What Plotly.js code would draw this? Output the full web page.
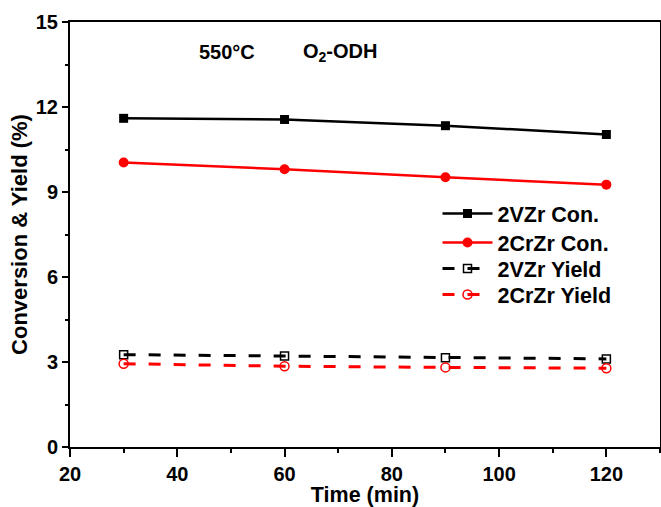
<!DOCTYPE html>
<html>
<head>
<meta charset="utf-8">
<script src="https://cdn.plot.ly/plotly-3.0.1.min.js"></script>
<style>html,body{margin:0;padding:0;background:#fff;}</style>
</head>
<body>
<div id="chart" style="width:661px;height:507px;"></div>
<script>
const time = [30, 60, 90, 120];
const vzrCon = [11.60, 11.56, 11.34, 11.03];
const crzrCon = [10.04, 9.80, 9.52, 9.26];
const vzrYield = [3.26, 3.21, 3.15, 3.11];
const crzrYield = [2.94, 2.85, 2.81, 2.78];
const seriesNames = ['2VZr Con.', '2CrZr Con.', '2VZr Yield', '2CrZr Yield'];

const F = 'Liberation Sans, Arial, sans-serif';
const traces = [
  {x: time, y: vzrCon, name: seriesNames[0], mode: 'lines+markers', legend: 'legend',
   line: {color: '#000', width: 2.5}, marker: {symbol: 'square', size: 9, color: '#000'}},
  {x: time, y: crzrCon, name: seriesNames[1], mode: 'lines+markers', legend: 'legend2',
   line: {color: '#ff0000', width: 2.5}, marker: {symbol: 'circle', size: 10, color: '#ff0000'}},
  {x: time, y: vzrYield, name: seriesNames[2], mode: 'lines+markers', legend: 'legend3',
   line: {color: '#000', width: 3, dash: '12px,13px'},
   marker: {symbol: 'square-open', size: 8, color: '#000', line: {width: 1.5}}},
  {x: time, y: crzrYield, name: seriesNames[3], mode: 'lines+markers', legend: 'legend4',
   line: {color: '#ff0000', width: 3, dash: '12px,13px'},
   marker: {symbol: 'circle-open', size: 9, color: '#ff0000', line: {width: 1.5}}}
];

function leg(y) {
  return {
    x: 0.6229, y: y, xanchor: 'left', yanchor: 'top',
    bgcolor: 'rgba(0,0,0,0)', borderwidth: 0,
    font: {family: F, size: 21.5, weight: 700, color: '#000'},
    itemwidth: 50
  };
}

const layout = {
  width: 661, height: 507,
  margin: {l: 70, r: 1, t: 22, b: 60},
  paper_bgcolor: '#fff', plot_bgcolor: '#fff',
  showlegend: true,
  font: {family: F, color: '#000'},
  xaxis: {
    range: [20, 130], tick0: 20, dtick: 20, ticks: 'outside', ticklen: 8, tickwidth: 2,
    tickcolor: '#000', showline: true, linewidth: 2, linecolor: '#000', mirror: true,
    showgrid: false, zeroline: false,
    minor: {dtick: 10, ticks: 'outside', ticklen: 4, tickwidth: 2, tickcolor: '#000', showgrid: false},
    tickfont: {family: F, size: 20, weight: 700, color: '#000'},
    title: {text: 'Time (min)', font: {family: F, size: 21.5, weight: 700, color: '#000'}, standoff: 11}
  },
  yaxis: {
    range: [0, 15], tick0: 0, dtick: 3, ticks: 'outside', ticklen: 6, tickwidth: 2,
    tickcolor: '#000', showline: true, linewidth: 2, linecolor: '#000', mirror: true,
    showgrid: false, zeroline: false,
    minor: {dtick: 1.5, ticks: 'outside', ticklen: 3, tickwidth: 2, tickcolor: '#000', showgrid: false},
    tickfont: {family: F, size: 20, weight: 700, color: '#000'},
    title: {text: 'Conversion &amp; Yield (%)', font: {family: F, size: 22, weight: 700, color: '#000'}, standoff: 2}
  },
  legend: leg(0.5976),
  legend2: leg(0.5294),
  legend3: leg(0.4682),
  legend4: leg(0.4071),
  annotations: [
    {x: 49.3, y: 13.94, xref: 'x', yref: 'y', text: '550°C', showarrow: false,
     xanchor: 'center', yanchor: 'middle', font: {family: F, size: 20, weight: 700, color: '#000'}},
    {x: 70.3, y: 13.94, xref: 'x', yref: 'y', text: 'O<sub>2</sub>-ODH', showarrow: false,
     xanchor: 'center', yanchor: 'middle', font: {family: F, size: 20, weight: 700, color: '#000'}}
  ]
};

Plotly.newPlot('chart', traces, layout, {displayModeBar: false, staticPlot: true});
</script>
</body>
</html>
